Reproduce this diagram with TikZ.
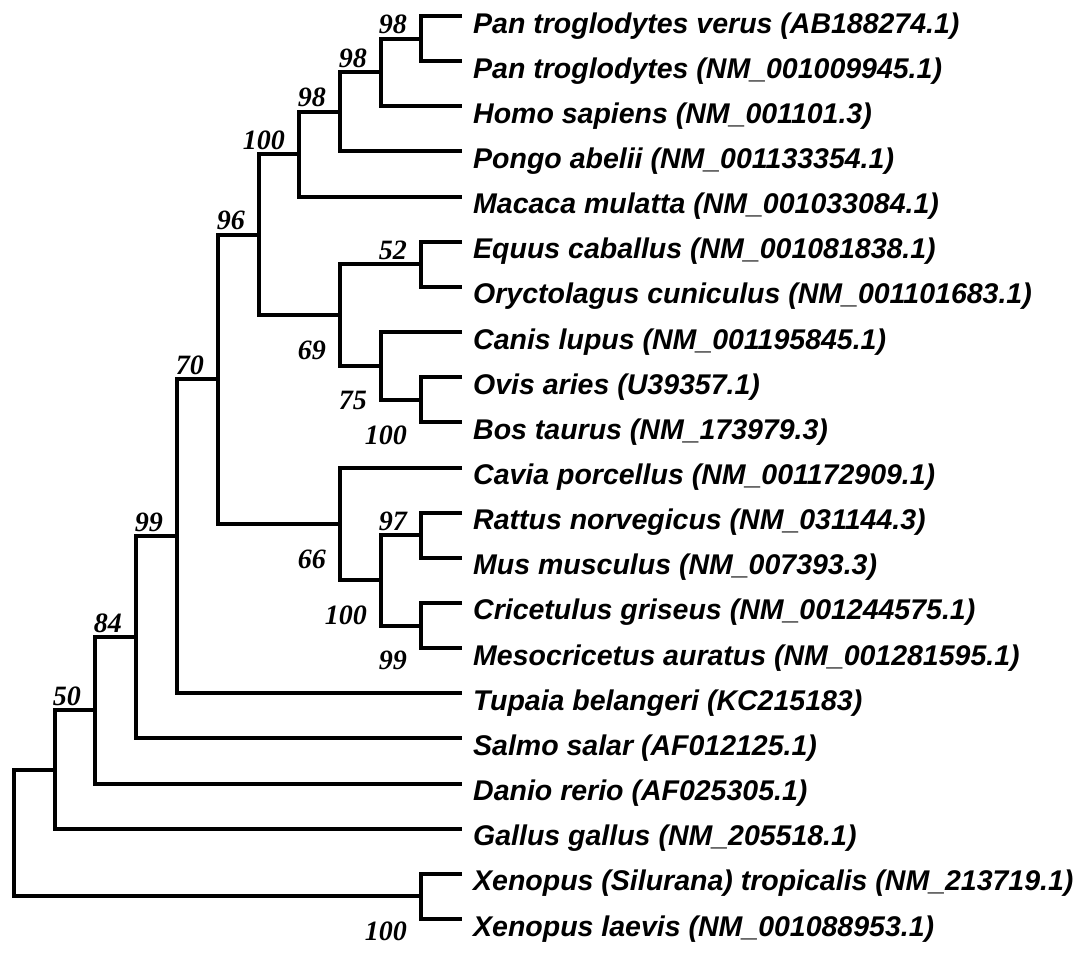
\documentclass[tikz,border=0pt]{standalone}
\usepackage{fontspec}
\setmainfont{Liberation Serif}
\newfontfamily\leaffont{Liberation Sans}
\usetikzlibrary{positioning}

\tikzset{
  branch/.style={line width=4pt, line join=miter},
  leaf/.style={anchor=base west, inner sep=0pt,
    font=\leaffont\bfseries\itshape\fontsize{28.5}{34}\selectfont},
  boot/.style={inner sep=0pt, font=\bfseries\itshape\fontsize{28}{34}\selectfont},
}

\begin{document}
\begin{tikzpicture}[x=1pt, y=-1pt]

\useasboundingbox (0,0) rectangle (1087,953);

% Листья (21 вид)
\foreach \txt [count=\i from 0] in {
Pan troglodytes verus (AB188274.1),
Pan troglodytes (NM\_001009945.1),
Homo sapiens (NM\_001101.3),
Pongo abelii (NM\_001133354.1),
Macaca mulatta (NM\_001033084.1),
Equus caballus (NM\_001081838.1),
Oryctolagus cuniculus (NM\_001101683.1),
Canis lupus (NM\_001195845.1),
Ovis aries (U39357.1),
Bos taurus (NM\_173979.3),
Cavia porcellus (NM\_001172909.1),
Rattus norvegicus (NM\_031144.3),
Mus musculus (NM\_007393.3),
Cricetulus griseus (NM\_001244575.1),
Mesocricetus auratus (NM\_001281595.1),
Tupaia belangeri (KC215183),
Salmo salar (AF012125.1),
Danio rerio (AF025305.1),
Gallus gallus (NM\_205518.1),
Xenopus (Silurana) tropicalis (NM\_213719.1),
Xenopus laevis (NM\_001088953.1)}
{
    \coordinate (l\i) at (462,{16+45.15*\i});
    \node[leaf] (t\i) at (473,{33+45.15*\i}) {\txt};
}

% Внутренние узлы (x, номер по вертикали)
\foreach \n/\x/\k in {
nPan/421/0.5, nHomo/381/1.25, nPongo/340/2.125, nPrim/299/3.0625,
nEq/421/5.5, nBov/421/8.5, nCanis/381/7.75, nLaur/340/6.625,
nEuarch/259/4.84375,
nRat/421/11.5, nCric/421/13.5, nRod/381/12.5, nCavia/340/11.25,
nMam/218/8.046875, nTup/177/11.5234, nSalmo/136/13.7617,
nDanio/95/15.3809, nGallus/55/16.6904,
nXen/421/19.5, nRoot/14/18.0952}
{
    \coordinate (\n) at (\x,{16+45.15*\k});
}

% Ветви
\foreach \p/\a/\b in {
nPan/l0/l1, nHomo/nPan/l2, nPongo/nHomo/l3, nPrim/nPongo/l4,
nEq/l5/l6, nBov/l8/l9, nCanis/l7/nBov, nLaur/nEq/nCanis,
nEuarch/nPrim/nLaur,
nRat/l11/l12, nCric/l13/l14, nRod/nRat/nCric, nCavia/l10/nRod,
nMam/nEuarch/nCavia, nTup/nMam/l15, nSalmo/nTup/l16,
nDanio/nSalmo/l17, nGallus/nDanio/l18,
nXen/l19/l20, nRoot/nGallus/nXen}
{
    \draw[branch] (\a) -| (\p) |- (\b);
}

% Бутстрэп (над ветвью)
\foreach \n/\v in {
nPan/98, nHomo/98, nPongo/98, nPrim/100, nEuarch/96, nEq/52,
nMam/70, nTup/99, nRat/97, nSalmo/84, nDanio/50}
{
    \node[boot, above left=4.5pt and 14pt of \n] (b\n) {\v};
}

% Бутстрэп (под узлом)
\foreach \n/\v in {
nLaur/69, nCanis/75, nBov/100, nCavia/66, nRod/100, nCric/99, nXen/100}
{
    \node[boot, below left=25.5pt and 14pt of \n] (b\n) {\v};
}

\end{tikzpicture}
\end{document}
